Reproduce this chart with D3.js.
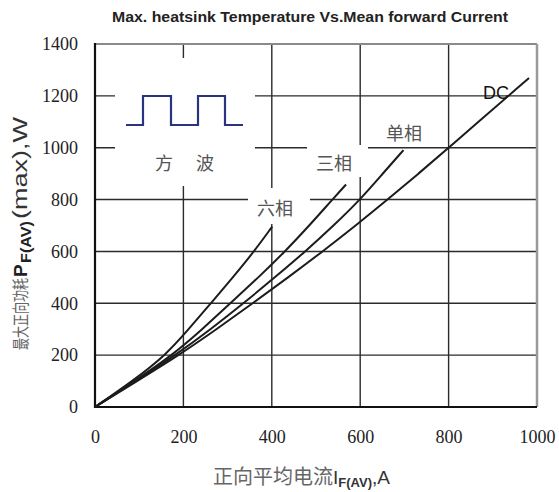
<!DOCTYPE html>
<html>
<head>
<meta charset="utf-8">
<script src="https://cdn.jsdelivr.net/npm/d3@7"></script>
<style>
  html, body { margin: 0; padding: 0; background: #fff; }
  svg { display: block; }
</style>
</head>
<body>
<svg id="chart"></svg>
<script>
const width = 559;
const height = 492;

// chart values
const xTicks = [0, 200, 400, 600, 800, 1000];
const yTicks = [0, 200, 400, 600, 800, 1000, 1200, 1400];
const curveNames = ["六相", "三相", "单相", "DC"];

const sixPhaseI = [0, 85, 160, 212, 262, 312, 360, 401];
const sixPhaseP = [0, 100, 200, 300, 400, 500, 600, 696];

const threePhaseI = [0, 90, 175, 243, 306, 370, 430, 485, 537, 568];
const threePhaseP = [0, 100, 200, 300, 400, 500, 600, 700, 800, 858];

const singlePhaseI = [0, 92, 182, 262, 336, 407, 476, 540, 600, 651, 698];
const singlePhaseP = [0, 100, 200, 300, 400, 500, 600, 700, 800, 900, 991];

const dcI = [0, 95, 190, 275, 357, 437, 515, 590, 662, 732, 800, 982];
const dcP = [0, 100, 200, 300, 400, 500, 600, 700, 800, 900, 1000, 1269];

const series = [
  { name: curveNames[0], I: sixPhaseI, P: sixPhaseP },
  { name: curveNames[1], I: threePhaseI, P: threePhaseP },
  { name: curveNames[2], I: singlePhaseI, P: singlePhaseP },
  { name: curveNames[3], I: dcI, P: dcP }
];

const svg = d3.select('#chart').attr('width', width).attr('height', height);

const x = d3.scaleLinear().domain([0, 1000]).range([95, 537]);
const y = d3.scaleLinear().domain([0, 1400]).range([407, 44]);

const sans = '"Liberation Sans", Arial, sans-serif';
const cjk = '"Noto Sans CJK SC", sans-serif';

// title
svg.append('text')
  .attr('x', 112).attr('y', 22)
  .attr('textLength', 396).attr('lengthAdjust', 'spacingAndGlyphs')
  .style('font-family', sans)
  .style('font-weight', 'bold').style('font-size', '14px')
  .attr('fill', '#222')
  .text('Max. heatsink Temperature Vs.Mean forward Current');

// grid
const grid = svg.append('g').attr('stroke', '#2b2b2b').attr('stroke-width', 1.4);
grid.selectAll('.vg').data(xTicks.slice(1, -1)).enter().append('line')
  .attr('x1', d => x(d)).attr('x2', d => x(d))
  .attr('y1', y(1400)).attr('y2', y(0));
grid.selectAll('.hg').data(yTicks.slice(1, -1)).enter().append('line')
  .attr('x1', x(0)).attr('x2', x(1000))
  .attr('y1', d => y(d)).attr('y2', d => y(d));

// white patches behind the inset and labels
const patches = [
  [115, 58, 140, 128],
  [307, 145, 61, 32],
  [248, 188, 62, 36]
];
svg.selectAll('.patch').data(patches).enter().append('rect')
  .attr('x', d => d[0]).attr('y', d => d[1])
  .attr('width', d => d[2]).attr('height', d => d[3])
  .attr('fill', '#fff');

// frame
svg.append('line').attr('x1', x(0)).attr('x2', x(1000)).attr('y1', y(1400)).attr('y2', y(1400))
  .attr('stroke', '#8a8a8a').attr('stroke-width', 2);
svg.append('line').attr('x1', x(1000)).attr('x2', x(1000)).attr('y1', y(1400)).attr('y2', y(0))
  .attr('stroke', '#9a9a9a').attr('stroke-width', 2.5);
svg.append('line').attr('x1', x(0)).attr('x2', x(0)).attr('y1', y(1400) - 1).attr('y2', y(0) + 1)
  .attr('stroke', '#111').attr('stroke-width', 2.2);
svg.append('line').attr('x1', x(0) - 1).attr('x2', x(1000)).attr('y1', y(0)).attr('y2', y(0))
  .attr('stroke', '#111').attr('stroke-width', 2.2);

// axes (labels only)
const tickFont = sel => sel.selectAll('text')
  .style('font-family', '"Liberation Serif", "Times New Roman", serif')
  .style('font-size', '18px').attr('fill', '#222');

const yAxis = svg.append('g').attr('transform', `translate(${x(0)},0)`)
  .call(d3.axisLeft(y).tickValues(yTicks).tickSize(0).tickPadding(17).tickFormat(d3.format('d')));
yAxis.select('.domain').remove();
tickFont(yAxis);

const xAxis = svg.append('g').attr('transform', `translate(0,${y(0)})`)
  .call(d3.axisBottom(x).tickValues(xTicks).tickSize(0).tickPadding(23).tickFormat(d3.format('d')));
xAxis.select('.domain').remove();
tickFont(xAxis);

// curves
const line = d3.line()
  .x(d => x(d[0])).y(d => y(d[1]))
  .curve(d3.curveBasis);

svg.selectAll('.curve').data(series).enter().append('path')
  .attr('d', s => line(s.I.map((v, i) => [v, s.P[i]])))
  .attr('fill', 'none').attr('stroke', '#1c1c1c').attr('stroke-width', 2);

// curve labels
const labelPos = [[275, 215], [334, 170], [404, 140]];
svg.selectAll('.clabel').data(curveNames.slice(0, 3)).enter().append('text')
  .attr('x', (d, i) => labelPos[i][0]).attr('y', (d, i) => labelPos[i][1])
  .attr('text-anchor', 'middle')
  .style('font-family', cjk).style('font-size', '18px')
  .attr('fill', '#555').text(d => d);

svg.append('text').attr('x', 496).attr('y', 99).attr('text-anchor', 'middle')
  .style('font-family', sans).style('font-size', '18px')
  .attr('fill', '#111').text(curveNames[3]);

// inset: square wave
const wave = [[126, 125], [143, 125], [143, 96], [171, 96], [171, 125], [198, 125],
  [198, 96], [225, 96], [225, 125], [243, 125]];
svg.append('path').attr('d', d3.line()(wave))
  .attr('fill', 'none').attr('stroke', '#2a3282').attr('stroke-width', 2.2);
svg.append('text').attr('x', 164).attr('y', 170).attr('text-anchor', 'middle')
  .style('font-family', cjk).style('font-size', '18px').attr('fill', '#555').text('方');
svg.append('text').attr('x', 205).attr('y', 170).attr('text-anchor', 'middle')
  .style('font-family', cjk).style('font-size', '18px').attr('fill', '#555').text('波');

// y axis title, pieces laid along the rotated baseline
const ytitle = svg.append('g').attr('transform', 'translate(27,350) rotate(-90)');
ytitle.append('text').attr('x', 0).attr('y', 0)
  .attr('textLength', 72).attr('lengthAdjust', 'spacingAndGlyphs')
  .style('font-family', cjk).style('font-size', '17px').attr('fill', '#666')
  .text('最大正向功耗');
ytitle.append('text').attr('x', 73).attr('y', 0)
  .style('font-family', sans).style('font-size', '19px').style('font-weight', 'bold')
  .attr('fill', '#222').text('P');
ytitle.append('text').attr('x', 87).attr('y', 4)
  .attr('textLength', 42).attr('lengthAdjust', 'spacingAndGlyphs')
  .style('font-family', sans).style('font-size', '14px').style('font-weight', 'bold')
  .attr('fill', '#222').text('F(AV)');
ytitle.append('text').attr('x', 131).attr('y', 0)
  .attr('textLength', 102).attr('lengthAdjust', 'spacingAndGlyphs')
  .style('font-family', sans).style('font-size', '21px')
  .attr('fill', '#333').text('(max),W');

// x axis title
const xtitle = svg.append('text')
  .attr('x', 213).attr('y', 484)
  .style('font-family', sans)
  .attr('fill', '#333');
xtitle.append('tspan').style('font-family', cjk).style('font-size', '20px').attr('fill', '#666').text('正向平均电流');
xtitle.append('tspan').style('font-size', '19px').text('I');
xtitle.append('tspan').style('font-size', '13px').style('font-weight', 'bold').attr('dy', 3).text('F(AV)');
xtitle.append('tspan').style('font-size', '19px').attr('dy', -3).text(',A');
</script>
</body>
</html>
